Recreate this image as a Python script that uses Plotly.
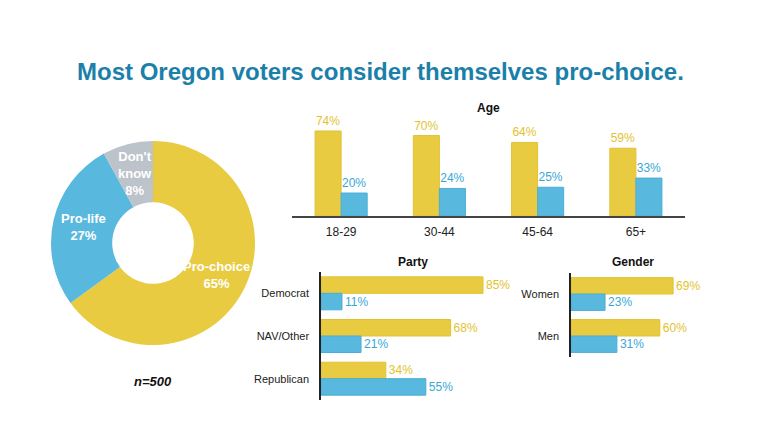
import math
import plotly.graph_objects as go

# ---- data ----
pie_labels = ["Pro-choice", "Pro-life", "Don't<br>know"]
pie_values = [65, 27, 8]

age_groups = ["18-29", "30-44", "45-64", "65+"]
age_choice = [74, 70, 64, 59]
age_life = [20, 24, 25, 33]

party_groups = ["Democrat", "NAV/Other", "Republican"]
party_choice = [85, 68, 34]
party_life = [11, 21, 55]

gender_groups = ["Women", "Men"]
gender_choice = [69, 60]
gender_life = [23, 31]

YELLOW = "#E8CB40"
BLUE = "#58B8DD"
GRAY = "#BDC3CA"
YEL_TXT = "#E3C22E"
BLUE_TXT = "#3AA8D6"
FONT = "Liberation Sans, Arial, sans-serif"
W, H = 760, 427


def px(x):
    return x / W


def py(y):
    return 1 - y / H


fig = go.Figure()

# donut geometry (pixels)
PIE_CX, PIE_CY, PIE_R = 153, 243, 102
HOLE = 0.4

fig.add_trace(go.Pie(
    labels=pie_labels, values=pie_values, hole=HOLE, sort=False,
    direction="clockwise", rotation=0,
    marker=dict(colors=[YELLOW, BLUE, GRAY], line=dict(color="white", width=0)),
    textinfo="none",
    domain=dict(x=[px(PIE_CX - PIE_R), px(PIE_CX + PIE_R)],
                y=[py(PIE_CY + PIE_R), py(PIE_CY - PIE_R)]),
    showlegend=False, hoverinfo="skip",
))

# donut labels placed at the middle of each ring segment
annotations = []
total = sum(pie_values)
cum = 0
r_mid = PIE_R * (1 + HOLE) / 2
for lab, v in zip(pie_labels, pie_values):
    mid = (cum + v / 2) / total * 2 * math.pi
    cum += v
    lx = PIE_CX + r_mid * math.sin(mid)
    ly = PIE_CY - r_mid * math.cos(mid)
    annotations.append(dict(
        text=f"<b>{lab}<br>{v}%</b>", x=px(lx), y=py(ly), xref="paper", yref="paper",
        xanchor="center", yanchor="middle", showarrow=False,
        font=dict(size=13, color="white", family=FONT)))

# age (vertical bars)
bw_age = 0.265
fig.add_trace(go.Bar(
    x=age_groups, y=age_choice, marker=dict(color=YELLOW, line=dict(color="#E2C232", width=1)),
    width=bw_age, offset=-bw_age, text=[f"{v}%" for v in age_choice],
    textposition="outside", constraintext="none", cliponaxis=False,
    textfont=dict(color=YEL_TXT, size=12, family=FONT), xaxis="x", yaxis="y",
    showlegend=False, hoverinfo="skip",
))
fig.add_trace(go.Bar(
    x=age_groups, y=age_life, marker=dict(color=BLUE, line=dict(color="#49AED6", width=1)),
    width=bw_age, offset=0, text=[f"{v}%" for v in age_life],
    textposition="outside", constraintext="none", cliponaxis=False,
    textfont=dict(color=BLUE_TXT, size=12, family=FONT), xaxis="x", yaxis="y",
    showlegend=False, hoverinfo="skip",
))

# party (horizontal bars)
bw_p = 0.386
fig.add_trace(go.Bar(
    y=party_groups, x=party_choice, orientation="h",
    marker=dict(color=YELLOW, line=dict(color="#E2C232", width=1)),
    width=bw_p, offset=-bw_p, text=[f"{v}%" for v in party_choice],
    textposition="outside", constraintext="none", cliponaxis=False,
    textfont=dict(color=YEL_TXT, size=12, family=FONT), xaxis="x2", yaxis="y2",
    showlegend=False, hoverinfo="skip",
))
fig.add_trace(go.Bar(
    y=party_groups, x=party_life, orientation="h",
    marker=dict(color=BLUE, line=dict(color="#49AED6", width=1)),
    width=bw_p, offset=0, text=[f"{v}%" for v in party_life],
    textposition="outside", constraintext="none", cliponaxis=False,
    textfont=dict(color=BLUE_TXT, size=12, family=FONT), xaxis="x2", yaxis="y2",
    showlegend=False, hoverinfo="skip",
))

# gender (horizontal bars)
bw_g = 0.39
fig.add_trace(go.Bar(
    y=gender_groups, x=gender_choice, orientation="h",
    marker=dict(color=YELLOW, line=dict(color="#E2C232", width=1)),
    width=bw_g, offset=-bw_g, text=[f"{v}%" for v in gender_choice],
    textposition="outside", constraintext="none", cliponaxis=False,
    textfont=dict(color=YEL_TXT, size=12, family=FONT), xaxis="x3", yaxis="y3",
    showlegend=False, hoverinfo="skip",
))
fig.add_trace(go.Bar(
    y=gender_groups, x=gender_life, orientation="h",
    marker=dict(color=BLUE, line=dict(color="#49AED6", width=1)),
    width=bw_g, offset=0, text=[f"{v}%" for v in gender_life],
    textposition="outside", constraintext="none", cliponaxis=False,
    textfont=dict(color=BLUE_TXT, size=12, family=FONT), xaxis="x3", yaxis="y3",
    showlegend=False, hoverinfo="skip",
))

axis_common = dict(showgrid=False, zeroline=False, fixedrange=True)
tickfont = dict(size=11, color="#222222", family=FONT)

annotations += [
    dict(text="<b>Most Oregon voters consider themselves pro-choice.</b>",
         x=0.5, y=py(72), xref="paper", yref="paper", showarrow=False,
         xanchor="center", yanchor="middle",
         font=dict(size=24, color="#1B80A9", family=FONT)),
    dict(text="<b><i>n=500</i></b>", x=px(153), y=py(381), xref="paper",
         yref="paper", showarrow=False, xanchor="center", yanchor="middle",
         font=dict(size=13, color="#111111", family=FONT)),
    dict(text="<b>Age</b>", x=px(488), y=py(108), xref="paper", yref="paper",
         showarrow=False, xanchor="center", yanchor="middle",
         font=dict(size=12, color="#111111", family=FONT)),
    dict(text="<b>Party</b>", x=px(413), y=py(262), xref="paper", yref="paper",
         showarrow=False, xanchor="center", yanchor="middle",
         font=dict(size=12, color="#111111", family=FONT)),
    dict(text="<b>Gender</b>", x=px(633), y=py(262), xref="paper", yref="paper",
         showarrow=False, xanchor="center", yanchor="middle",
         font=dict(size=12, color="#111111", family=FONT)),
]

fig.update_layout(
    width=W, height=H, margin=dict(l=0, r=0, t=0, b=0),
    paper_bgcolor="white", plot_bgcolor="rgba(0,0,0,0)",
    barmode="overlay", font=dict(family=FONT),
    xaxis=dict(domain=[px(292), px(685)], anchor="y", showline=True,
               linecolor="#444444", linewidth=1.5, ticks="", ticklabelstandoff=4,
               tickfont=dict(size=12, color="#222222", family=FONT), **axis_common),
    yaxis=dict(domain=[py(216), py(108)], anchor="x", range=[0, 94],
               visible=False, **axis_common),
    xaxis2=dict(domain=[px(321), px(511.6)], anchor="y2", range=[0, 100],
                visible=False, **axis_common),
    yaxis2=dict(domain=[py(400), py(272)], anchor="x2", autorange="reversed",
                showline=True, linecolor="#222222", linewidth=1.5, ticks="",
                ticklabelstandoff=8, tickfont=tickfont, **axis_common),
    xaxis3=dict(domain=[px(571), px(719)], anchor="y3", range=[0, 100],
                visible=False, **axis_common),
    yaxis3=dict(domain=[py(357), py(273)], anchor="x3", autorange="reversed",
                showline=True, linecolor="#222222", linewidth=1.5, ticks="",
                ticklabelstandoff=8, tickfont=tickfont, **axis_common),
    annotations=annotations,
)

fig.write_html("out.html")
